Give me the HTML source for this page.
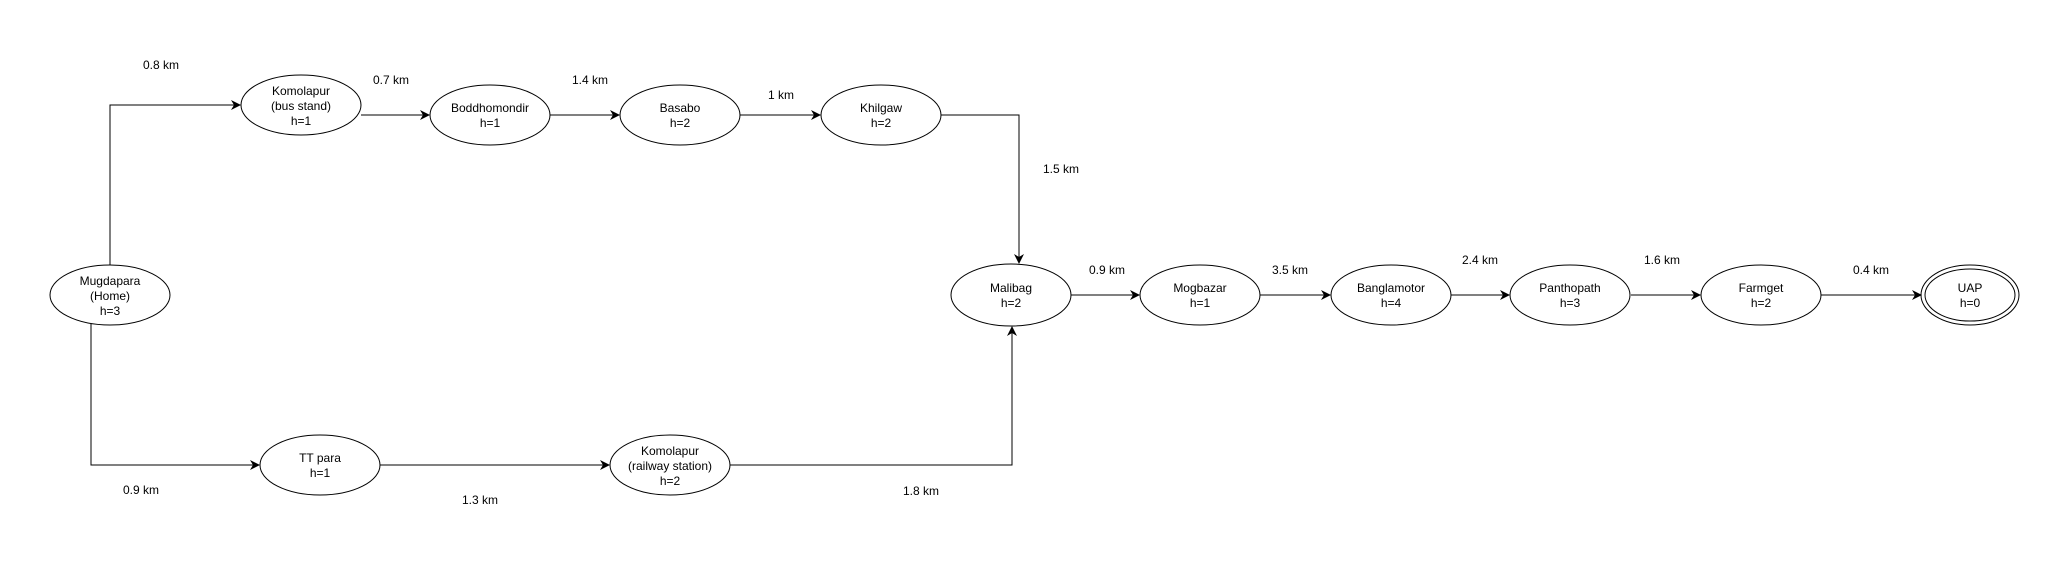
<!DOCTYPE html>
<html><head><meta charset="utf-8"><style>
html,body{margin:0;padding:0;background:#fff;}
svg{display:block;}
text{font-family:"Liberation Sans",Arial,sans-serif;font-size:12px;fill:#000;text-anchor:middle;}
</style></head><body>
<svg width="2071" height="566" viewBox="0 0 2071 566" xmlns="http://www.w3.org/2000/svg">
<defs>
<marker id="a" markerWidth="10" markerHeight="10" refX="9" refY="5" orient="auto" markerUnits="userSpaceOnUse">
<path d="M0,0 L10,5 L0,10 L3,5 Z" fill="#000"/>
</marker>
</defs>
<g fill="none" stroke="#000" stroke-width="1">
<polyline points="110,265 110,105 240,105" marker-end="url(#a)"/>
<line x1="361" y1="115" x2="429" y2="115" marker-end="url(#a)"/>
<line x1="550" y1="115" x2="619" y2="115" marker-end="url(#a)"/>
<line x1="740" y1="115" x2="820" y2="115" marker-end="url(#a)"/>
<polyline points="941,115 1019,115 1019,263" marker-end="url(#a)"/>
<polyline points="91,324 91,465 259,465" marker-end="url(#a)"/>
<line x1="380" y1="465" x2="609" y2="465" marker-end="url(#a)"/>
<polyline points="730,465 1012,465 1012,327" marker-end="url(#a)"/>
<line x1="1071" y1="295" x2="1139" y2="295" marker-end="url(#a)"/>
<line x1="1260" y1="295" x2="1330" y2="295" marker-end="url(#a)"/>
<line x1="1451" y1="295" x2="1509" y2="295" marker-end="url(#a)"/>
<line x1="1631" y1="295" x2="1700" y2="295" marker-end="url(#a)"/>
<line x1="1821" y1="295" x2="1921" y2="295" marker-end="url(#a)"/>
<ellipse cx="110" cy="295" rx="60" ry="30"/>
<ellipse cx="301" cy="105" rx="60" ry="30"/>
<ellipse cx="490" cy="115" rx="60" ry="30"/>
<ellipse cx="680" cy="115" rx="60" ry="30"/>
<ellipse cx="881" cy="115" rx="60" ry="30"/>
<ellipse cx="320" cy="465" rx="60" ry="30"/>
<ellipse cx="670" cy="465" rx="60" ry="30"/>
<ellipse cx="1011" cy="295" rx="60" ry="31"/>
<ellipse cx="1200" cy="295" rx="60" ry="30"/>
<ellipse cx="1391" cy="295" rx="60" ry="30"/>
<ellipse cx="1570" cy="295" rx="60" ry="30"/>
<ellipse cx="1761" cy="295" rx="60" ry="30"/>
<ellipse cx="1970" cy="295" rx="49" ry="30"/>
<ellipse cx="1970" cy="295" rx="45" ry="26"/>
</g>
<text x="110" y="285">Mugdapara</text><text x="110" y="300">(Home)</text><text x="110" y="315">h=3</text>
<text x="301" y="95">Komolapur</text><text x="301" y="110">(bus stand)</text><text x="301" y="125">h=1</text>
<text x="490" y="112">Boddhomondir</text><text x="490" y="127">h=1</text>
<text x="680" y="112">Basabo</text><text x="680" y="127">h=2</text>
<text x="881" y="112">Khilgaw</text><text x="881" y="127">h=2</text>
<text x="320" y="462">TT para</text><text x="320" y="477">h=1</text>
<text x="670" y="455">Komolapur</text><text x="670" y="470">(railway station)</text><text x="670" y="485">h=2</text>
<text x="1011" y="292">Malibag</text><text x="1011" y="307">h=2</text>
<text x="1200" y="292">Mogbazar</text><text x="1200" y="307">h=1</text>
<text x="1391" y="292">Banglamotor</text><text x="1391" y="307">h=4</text>
<text x="1570" y="292">Panthopath</text><text x="1570" y="307">h=3</text>
<text x="1761" y="292">Farmget</text><text x="1761" y="307">h=2</text>
<text x="1970" y="292">UAP</text><text x="1970" y="307">h=0</text>
<text x="161" y="69">0.8 km</text>
<text x="391" y="84">0.7 km</text>
<text x="590" y="84">1.4 km</text>
<text x="781" y="99">1 km</text>
<text x="1061" y="173">1.5 km</text>
<text x="141" y="494">0.9 km</text>
<text x="480" y="504">1.3 km</text>
<text x="921" y="495">1.8 km</text>
<text x="1107" y="274">0.9 km</text>
<text x="1290" y="274">3.5 km</text>
<text x="1480" y="264">2.4 km</text>
<text x="1662" y="264">1.6 km</text>
<text x="1871" y="274">0.4 km</text>
</svg>
</body></html>
